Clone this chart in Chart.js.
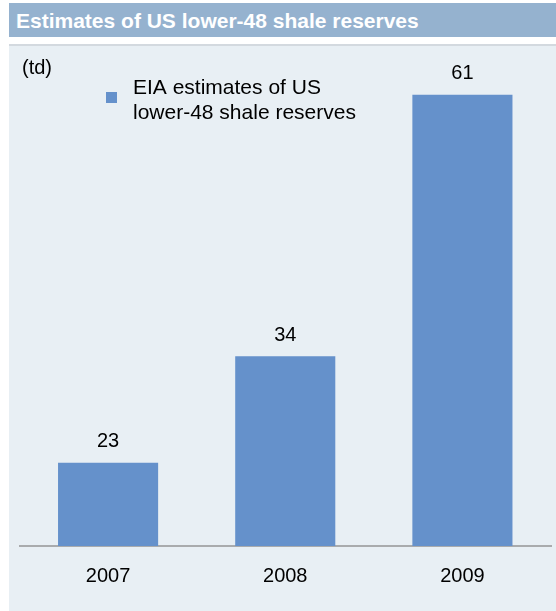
<!DOCTYPE html>
<html>
<head>
<meta charset="utf-8">
<script src="https://cdn.jsdelivr.net/npm/chart.js@4"></script>
<style>
  body { margin: 0; background: #ffffff; width: 556px; height: 611px; overflow: hidden; position: relative; font-family: "Liberation Sans", Arial, sans-serif; }
  #titleBar { position: absolute; left: 9px; top: 3px; width: 547px; height: 34px; background: #95b2cf; color: #ffffff; font-weight: bold; font-size: 21px; line-height: 36px; padding-left: 7px; box-sizing: border-box; }
  #rule { position: absolute; left: 9px; top: 44px; width: 547px; height: 2px; background: #d3d9df; }
  #panel { position: absolute; left: 9px; top: 46px; width: 547px; height: 565px; background: #e8eff4; }
</style>
</head>
<body>
<div id="titleBar">Estimates of US lower-48 shale reserves</div>
<div id="rule"></div>
<div id="panel"><canvas id="shaleChart"></canvas></div>
<script>
/* --------------- Data --------------------- */
const years = ["2007", "2008", "2009"];
const reserves = [23, 34, 61];
const seriesName = "EIA estimates of US lower-48 shale reserves";
const unitLabel = "(td)";

const barColor = "#6591cb";

/* --------------- Value labels above bars --------------------- */
const valueLabels = {
  id: "valueLabels",
  afterDatasetsDraw(chart) {
    const ctx = chart.ctx;
    const meta = chart.getDatasetMeta(0);
    ctx.save();
    ctx.font = '20px "Liberation Sans", Arial, sans-serif';
    ctx.fillStyle = "#000000";
    ctx.textAlign = "center";
    ctx.textBaseline = "middle";
    meta.data.forEach((bar, i) => {
      ctx.fillText(chart.data.datasets[0].data[i], bar.x, bar.y - 21);
    });
    ctx.restore();
  },
};

/* --------------- Legend + unit --------------------- */
const sideNotes = {
  id: "sideNotes",
  afterDraw(chart) {
    const ctx = chart.ctx;
    ctx.save();
    ctx.fillStyle = "#000000";
    ctx.font = '20px "Liberation Sans", Arial, sans-serif';
    ctx.textBaseline = "middle";
    ctx.fillText(unitLabel, 13, 22);
    ctx.fillStyle = barColor;
    ctx.fillRect(97, 46, 11, 11);
    ctx.fillStyle = "#000000";
    ctx.font = '21px "Liberation Sans", Arial, sans-serif';
    ctx.fillText("EIA estimates of US", 124, 42);
    ctx.fillText("lower-48 shale reserves", 124, 67);
    ctx.restore();
  },
};

new Chart(document.getElementById("shaleChart"), {
  type: "bar",
  data: {
    labels: years,
    datasets: [{ label: seriesName, data: reserves, backgroundColor: barColor, categoryPercentage: 0.565, barPercentage: 1 }],
  },
  plugins: [valueLabels, sideNotes],
  options: {
    responsive: true,
    maintainAspectRatio: false,
    animation: false,
    layout: { padding: { left: 10.5, right: 5, top: 10, bottom: 0 } },
    plugins: { legend: { display: false }, tooltip: { enabled: false } },
    scales: {
      x: {
        grid: { display: false, drawTicks: false },
        border: { color: "#a9abad", width: 2 },
        ticks: { color: "#000000", padding: 18, font: { family: '"Liberation Sans", Arial, sans-serif', size: 20 } },
        afterFit: (scale) => { scale.height = 65; },
      },
      y: { display: false, min: 14.4, max: 65 },
    },
  },
});
</script>
</body>
</html>
